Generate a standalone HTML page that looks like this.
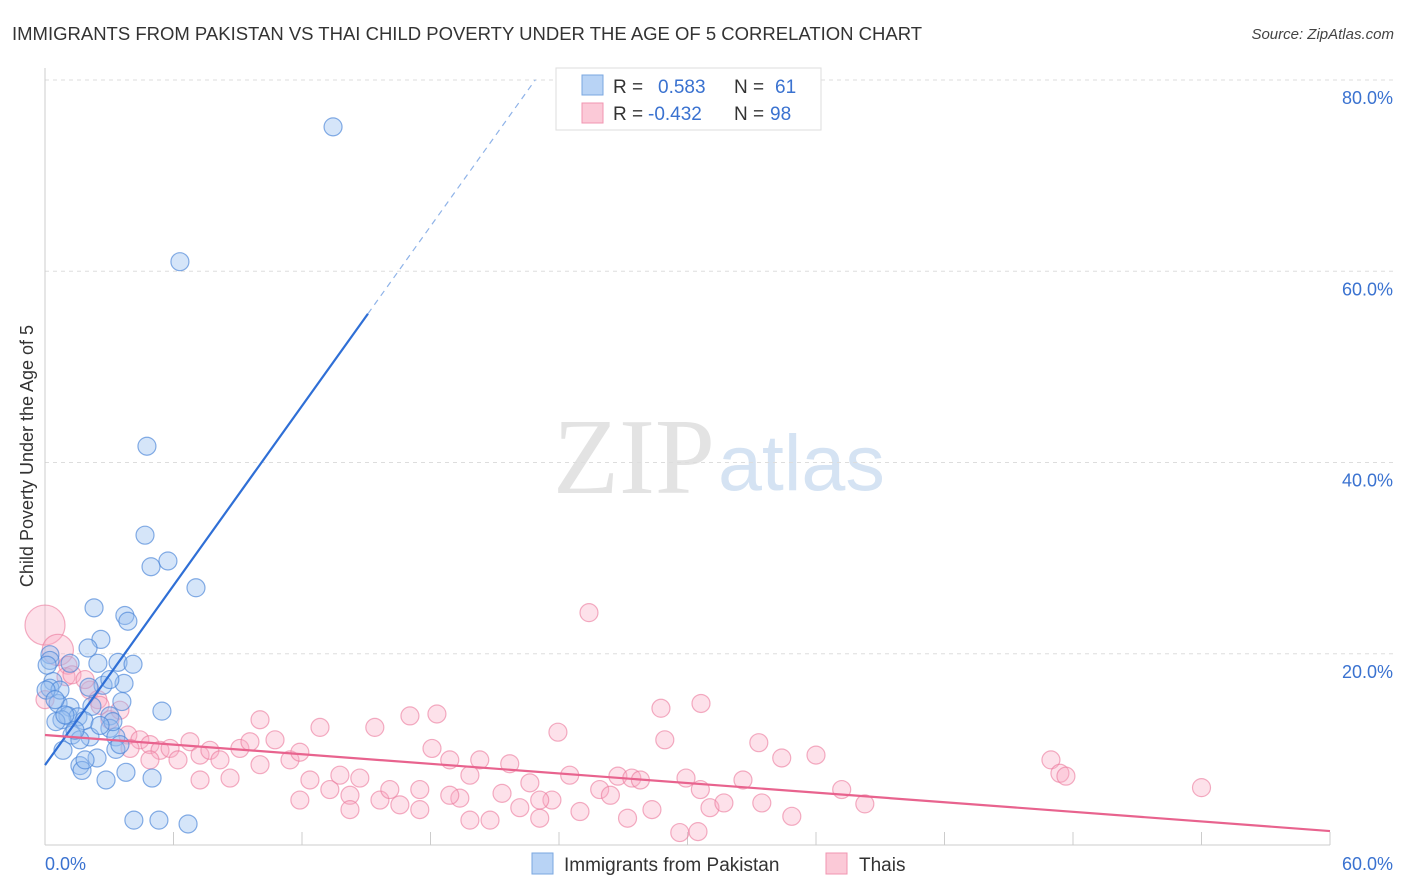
<!DOCTYPE html>
<html><head><meta charset="utf-8"><style>
body{margin:0;background:#fff;font-family:"Liberation Sans",sans-serif}
svg{display:block}
</style></head><body>
<svg width="1406" height="892" viewBox="0 0 1406 892">
<text x="12" y="40" font-size="18.5" fill="#333">IMMIGRANTS FROM PAKISTAN VS THAI CHILD POVERTY UNDER THE AGE OF 5 CORRELATION CHART</text>
<text x="1394" y="39" font-size="15" fill="#444" text-anchor="end" font-style="italic">Source: ZipAtlas.com</text>
<g>
<text x="553" y="493" font-size="108" fill="#e3e3e3" font-family="Liberation Serif,serif">ZIP</text>
<text x="718" y="490" font-size="79" fill="#d5e3f3">atlas</text>
</g>
<g id="grid"></g>
<g id="axes"></g>
<g id="marks"></g>
<text transform="translate(33,456) rotate(-90)" font-size="18" fill="#333" text-anchor="middle">Child Poverty Under the Age of 5</text>
<g>
<rect x="556" y="68" width="265" height="62" fill="#fff" stroke="#ddd"/>
<rect x="582" y="75" width="21" height="20" fill="#b8d3f5" stroke="#7aa7e0"/>
<rect x="582" y="103" width="21" height="20" fill="#fbc9d7" stroke="#f095b0"/>
<text x="613" y="93" font-size="19" fill="#333">R = <tspan x="658" fill="#3a72d0">0.583</tspan><tspan x="734" fill="#333">N = </tspan><tspan x="775" fill="#3a72d0">61</tspan></text>
<text x="613" y="120" font-size="19" fill="#333">R = <tspan x="648" fill="#3a72d0">-0.432</tspan><tspan x="734" fill="#333">N = </tspan><tspan x="770" fill="#3a72d0">98</tspan></text>
</g>
<g>
<rect x="532" y="853" width="21" height="21" fill="#b8d3f5" stroke="#7aa7e0"/>
<text x="564" y="871" font-size="19" fill="#333">Immigrants from Pakistan</text>
<rect x="826" y="853" width="21" height="21" fill="#fbc9d7" stroke="#f095b0"/>
<text x="859" y="871" font-size="19" fill="#333">Thais</text>
</g>
</svg>
<script>
const xTicks=[0,6,12,18,24,30,36,42,48,54,60];
const yTicks=[20,40,60,80];
const yTickLabels=["20.0%","40.0%","60.0%","80.0%"];
const xTickLabels=["0.0%","60.0%"];
const blueX=[13.45,6.3,4.76,4.67,5.74,4.95,7.05,2.29,3.73,3.87,2.61,2.01,0.23,3.41,4.11,1.17,2.47,3.69,2.71,0.37,0.23,3.03,2.05,3.59,0.61,5.46,1.17,2.19,3.03,1.07,1.54,0.79,0.51,1.82,3.03,3.31,3.17,1.26,2.1,1.63,0.84,3.31,2.43,1.63,1.73,3.78,5.0,2.85,4.15,5.32,6.68,0.23,0.7,2.57,1.4,0.05,0.47,0.93,3.5,1.87,0.1];
const blueY=[75.1,61.0,41.7,32.4,29.7,29.1,26.9,24.8,24.0,23.4,21.5,20.6,19.9,19.1,18.9,19.0,19.0,16.9,16.7,17.1,16.4,17.3,16.5,15.0,14.8,14.0,14.4,14.5,13.5,13.5,13.4,13.1,12.9,13.0,12.2,11.3,12.9,11.5,11.3,11.0,9.9,10.0,9.1,8.3,7.8,7.6,7.0,6.8,2.6,2.6,2.2,19.3,16.2,12.5,12.0,16.2,15.2,13.6,10.5,8.9,18.8];
const pinkX=[0,0.6,1.07,0.98,1.26,2.1,2.47,3.03,3.5,3.87,4.43,4.9,5.37,5.84,6.21,6.77,7.24,7.7,8.17,8.64,9.1,9.57,10.04,10.74,11.44,11.9,12.37,12.84,13.3,13.77,14.24,14.7,15.4,15.64,16.1,17.04,17.5,18.07,18.3,18.9,19.37,19.84,20.3,20.78,21.34,21.7,22.17,22.64,23.1,23.67,23.95,24.5,24.98,25.4,25.9,26.75,27.2,27.4,28.34,28.76,28.94,29.64,29.93,30.49,30.63,31.05,31.7,32.59,33.33,33.47,34.4,34.87,36.0,37.2,38.28,46.97,47.39,47.67,54.0,0,2.57,1.87,10.04,11.9,16.57,18.9,26.4,7.24,4.9,3.97,14.24,17.5,23.1,19.84,27.8,30.6];
const pinkY=[23.0,20.4,18.8,17.6,17.8,16.2,15.2,13.1,14.1,11.5,11.0,10.5,9.9,10.1,8.9,10.8,9.4,9.9,8.9,7.0,10.1,10.8,8.4,11.0,8.9,9.7,6.8,12.3,5.8,7.3,5.2,7.0,12.3,4.7,5.8,13.5,5.8,10.1,13.7,8.9,4.9,7.3,8.9,2.6,5.4,8.5,3.9,6.5,2.8,4.7,11.8,7.3,3.5,24.3,5.8,7.2,2.8,7.0,3.7,14.3,11.0,1.3,7.0,1.4,14.8,3.9,4.4,6.8,10.7,4.4,9.1,3.0,9.4,5.8,4.3,8.9,7.5,7.2,6.0,15.2,14.6,17.3,13.1,4.7,4.2,5.2,5.2,6.8,8.9,10.1,3.7,3.7,4.7,2.6,6.8,5.8];
const pinkSize=[5,3];
const blueTrend=[8.36,3.13];
const blueSolidEnd=15.08, blueDashEnd=22.9;
const pinkTrend=[11.5,1.46];

const NS="http://www.w3.org/2000/svg";
const X0=45,X1=1330,Y0=845,Y80=80;
const sx=v=>X0+(v/60)*(X1-X0);
const sy=v=>Y0-(v/80)*(Y0-Y80);
function mk(t,a,p){const e=document.createElementNS(NS,t);for(const k in a)e.setAttribute(k,a[k]);p.appendChild(e);return e;}
const grid=document.getElementById('grid'),axes=document.getElementById('axes'),marks=document.getElementById('marks');
yTicks.forEach((v,i)=>{
 const l=mk('line',{x1:45,x2:1395,y1:sy(v),y2:sy(v),stroke:'#ddd','stroke-dasharray':'4,4'},grid);
 
 
 const t=mk('text',{x:1393,y:sy(v)+24,'font-size':18,fill:'#3a72d0','text-anchor':'end'},axes);
 t.textContent=yTickLabels[i];
 
 
});
let a=mk('line',{x1:45,x2:45,y1:68,y2:845,stroke:'#ccc'},axes);


a=mk('line',{x1:45,x2:1330,y1:845,y2:845,stroke:'#ccc'},axes);


xTicks.forEach(v=>{const l=mk('line',{x1:sx(v),x2:sx(v),y1:832,y2:845,stroke:'#ccc'},axes);
 
 });
[[0,'start',45],[60,'end',1393]].forEach((d,i)=>{const t=mk('text',{x:d[2],y:870,'font-size':18,fill:'#3a72d0','text-anchor':d[1]},axes);
 t.textContent=xTickLabels[i];
 
 });
pinkX.forEach((x,i)=>{const r=i<pinkSize.length?9+pinkSize[i]*2.2:9;
 const c=mk('circle',{cx:sx(x),cy:sy(pinkY[i]),r:r,fill:'rgba(248,170,195,0.35)',stroke:'rgba(235,120,155,0.6)','stroke-width':1.2},marks);
 
 });
blueX.forEach((x,i)=>{const c=mk('circle',{cx:sx(x),cy:sy(blueY[i]),r:9,fill:'rgba(150,190,240,0.4)',stroke:'rgba(70,130,215,0.65)','stroke-width':1.2},marks);
 
 });
const bf=x=>blueTrend[0]+blueTrend[1]*x, pf=x=>pinkTrend[0]+(pinkTrend[1]-pinkTrend[0])*x/60;
let L=mk('line',{x1:sx(0),y1:sy(bf(0)),x2:sx(blueSolidEnd),y2:sy(bf(blueSolidEnd)),stroke:'#2f6fd6','stroke-width':2.2},marks);


L=mk('line',{x1:sx(blueSolidEnd),y1:sy(bf(blueSolidEnd)),x2:sx(blueDashEnd),y2:sy(bf(blueDashEnd)),stroke:'#8fb3e8','stroke-width':1.2,'stroke-dasharray':'6,5'},marks);


L=mk('line',{x1:sx(0),y1:sy(pf(0)),x2:sx(60),y2:sy(pf(60)),stroke:'#e8638e','stroke-width':2.2},marks);


</script>
</body></html>
